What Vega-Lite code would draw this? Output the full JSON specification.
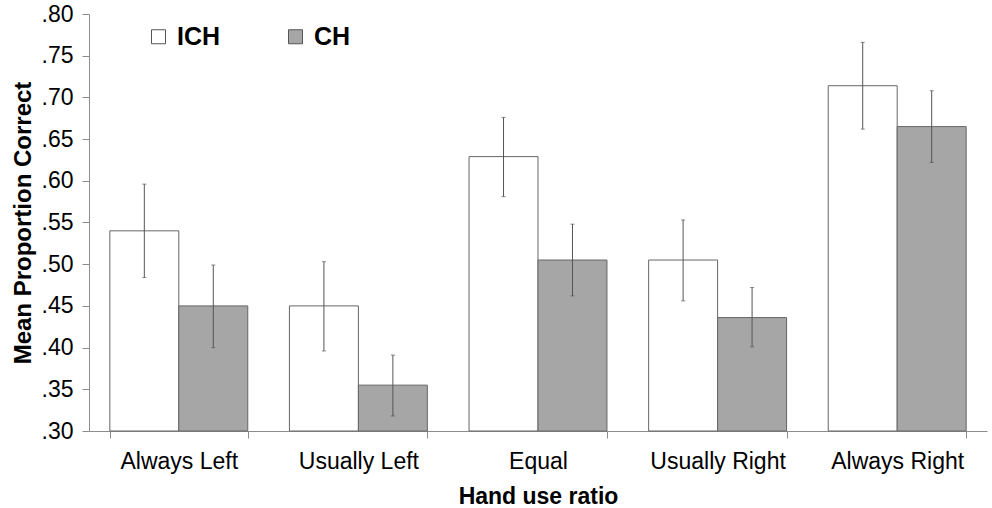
{
  "$schema": "https://vega.github.io/schema/vega-lite/v6.json",
  "width": 898,
  "height": 417,
  "autosize": "none",
  "padding": {"left": 89, "top": 14, "right": 5, "bottom": 77},
  "background": "white",
  "config": {
    "view": {"stroke": null},
    "font": "Liberation Sans",
    "axis": {
      "labelFont": "Liberation Sans",
      "labelFontSize": 23,
      "labelColor": "black",
      "titleFont": "Liberation Sans",
      "titleFontSize": 23,
      "titleFontWeight": "bold",
      "titleColor": "black",
      "domainColor": "#8c8c8c",
      "tickColor": "#8c8c8c",
      "tickSize": 7,
      "grid": false
    }
  },
  "data": {
    "values": [
      {"ratio": "Always Left", "group": "ICH", "mean": 0.54, "lo": 0.484, "hi": 0.596},
      {"ratio": "Always Left", "group": "CH", "mean": 0.45, "lo": 0.40, "hi": 0.499},
      {"ratio": "Usually Left", "group": "ICH", "mean": 0.45, "lo": 0.396, "hi": 0.503},
      {"ratio": "Usually Left", "group": "CH", "mean": 0.355, "lo": 0.318, "hi": 0.391},
      {"ratio": "Equal", "group": "ICH", "mean": 0.629, "lo": 0.581, "hi": 0.676},
      {"ratio": "Equal", "group": "CH", "mean": 0.505, "lo": 0.462, "hi": 0.548},
      {"ratio": "Usually Right", "group": "ICH", "mean": 0.505, "lo": 0.456, "hi": 0.553},
      {"ratio": "Usually Right", "group": "CH", "mean": 0.436, "lo": 0.401, "hi": 0.472},
      {"ratio": "Always Right", "group": "ICH", "mean": 0.714, "lo": 0.662, "hi": 0.766},
      {"ratio": "Always Right", "group": "CH", "mean": 0.665, "lo": 0.622, "hi": 0.708}
    ]
  },
  "encoding": {
    "x": {
      "field": "ratio",
      "type": "nominal",
      "sort": ["Always Left", "Usually Left", "Equal", "Usually Right", "Always Right"],
      "scale": {"paddingInner": 0.232, "paddingOuter": 0.116},
      "axis": {
        "title": "Hand use ratio",
        "labelAngle": 0,
        "tickBand": "extent",
        "labelPadding": 12,
        "titlePadding": 12
      }
    },
    "xOffset": {
      "field": "group",
      "type": "nominal",
      "sort": ["ICH", "CH"],
      "scale": {"paddingInner": 0, "paddingOuter": 0}
    }
  },
  "layer": [
    {
      "mark": {"type": "bar", "stroke": "#666666", "strokeWidth": 1},
      "encoding": {
        "y": {
          "field": "mean",
          "type": "quantitative",
          "scale": {"domain": [0.3, 0.8], "zero": false, "nice": false},
          "axis": {
            "title": "Mean Proportion Correct",
            "titleFontSize": 24,
            "values": [0.3, 0.35, 0.4, 0.45, 0.5, 0.55, 0.6, 0.65, 0.7, 0.75, 0.8],
            "labelExpr": "substring(format(datum.value, '.2f'), 1)",
            "labelPadding": 9,
            "titlePadding": 6
          }
        },
        "y2": {"datum": 0.3},
        "fill": {
          "field": "group",
          "type": "nominal",
          "sort": ["ICH", "CH"],
          "scale": {"domain": ["ICH", "CH"], "range": ["#ffffff", "#a6a6a6"]},
          "legend": {
            "title": null,
            "orient": "none",
            "legendX": 57,
            "legendY": 10,
            "direction": "horizontal",
            "symbolType": "square",
            "symbolSize": 196,
            "symbolStrokeColor": "#555555",
            "symbolStrokeWidth": 1,
            "symbolOpacity": 1,
            "labelFont": "Liberation Sans",
            "labelFontSize": 25,
            "labelFontWeight": "bold",
            "labelColor": "black",
            "labelOffset": 6,
            "columnPadding": 62
          }
        }
      }
    },
    {
      "mark": {"type": "rule", "color": "#555555", "strokeWidth": 1},
      "encoding": {
        "y": {"field": "lo", "type": "quantitative"},
        "y2": {"field": "hi"}
      }
    },
    {
      "mark": {"type": "tick", "color": "#555555", "size": 4, "thickness": 1},
      "encoding": {
        "y": {"field": "lo", "type": "quantitative"}
      }
    },
    {
      "mark": {"type": "tick", "color": "#555555", "size": 4, "thickness": 1},
      "encoding": {
        "y": {"field": "hi", "type": "quantitative"}
      }
    }
  ]
}
